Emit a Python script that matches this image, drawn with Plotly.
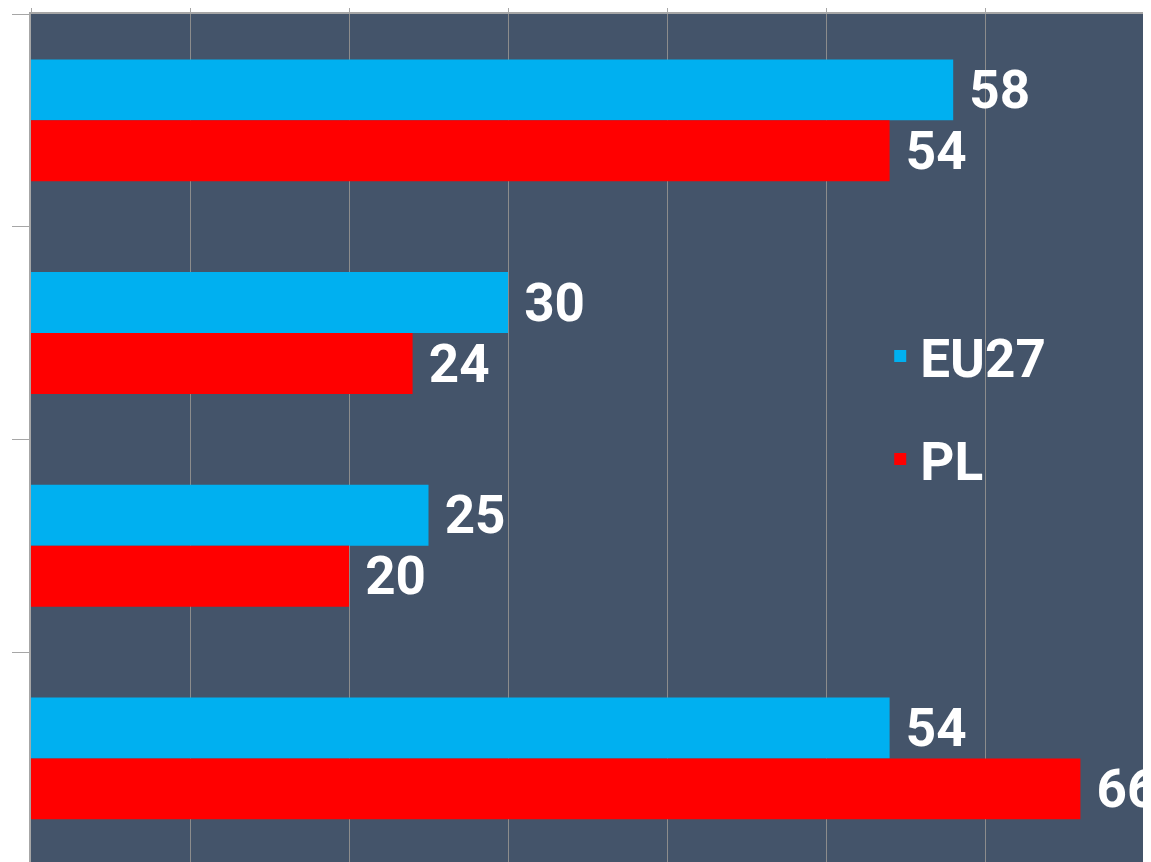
import plotly.graph_objects as go

categories = ["Kategoria 1", "Kategoria 2", "Kategoria 3", "Kategoria 4"]
eu27 = [58, 30, 25, 54]
pl = [54, 24, 20, 66]
series_names = ["EU27", "PL"]
series_colors = ["#00B0F0", "#FF0000"]

fig = go.Figure()
for name, vals, col in zip(series_names, [eu27, pl], series_colors):
    fig.add_trace(go.Bar(
        y=categories, x=vals, name=name, orientation="h",
        marker=dict(color=col, line=dict(width=0)),
        texttemplate="\u00a0%{x}", textposition="outside",
        textfont=dict(family="Roboto", size=53, color="white", weight="bold"),
        constraintext="none", cliponaxis=True,
        legendgroup=name,
    ))

fig.update_layout(
    width=1143, height=854,
    margin=dict(l=23, r=7, t=6, b=0),
    paper_bgcolor="white", plot_bgcolor="#44546A",
    barmode="group", bargap=0.427, bargroupgap=0,
    font=dict(family="Roboto", color="white"),
    showlegend=True,
    legend=dict(
        x=0.763, y=0.645, xanchor="left", yanchor="top",
        bgcolor="rgba(0,0,0,0)", borderwidth=0,
        font=dict(family="Roboto", size=53, color="white", weight="bold"),
        tracegroupgap=31,
    ),
)
fig.update_xaxes(
    side="top", range=[0, 70], dtick=10, showticklabels=False,
    showgrid=True, gridcolor="#8C8C8C", gridwidth=1,
    showline=True, linecolor="#A6A6A6", linewidth=1.5,
    ticks="outside", ticklen=7, tickcolor="#A6A6A6", zeroline=False,
)
fig.update_yaxes(
    range=[3.487, -0.5], showticklabels=False, showgrid=False,
    showline=True, linecolor="#A6A6A6", linewidth=1.5,
    ticks="outside", ticklen=17, tickcolor="#A6A6A6", tickson="boundaries",
    zeroline=False,
)

fig.write_html("out.html")
